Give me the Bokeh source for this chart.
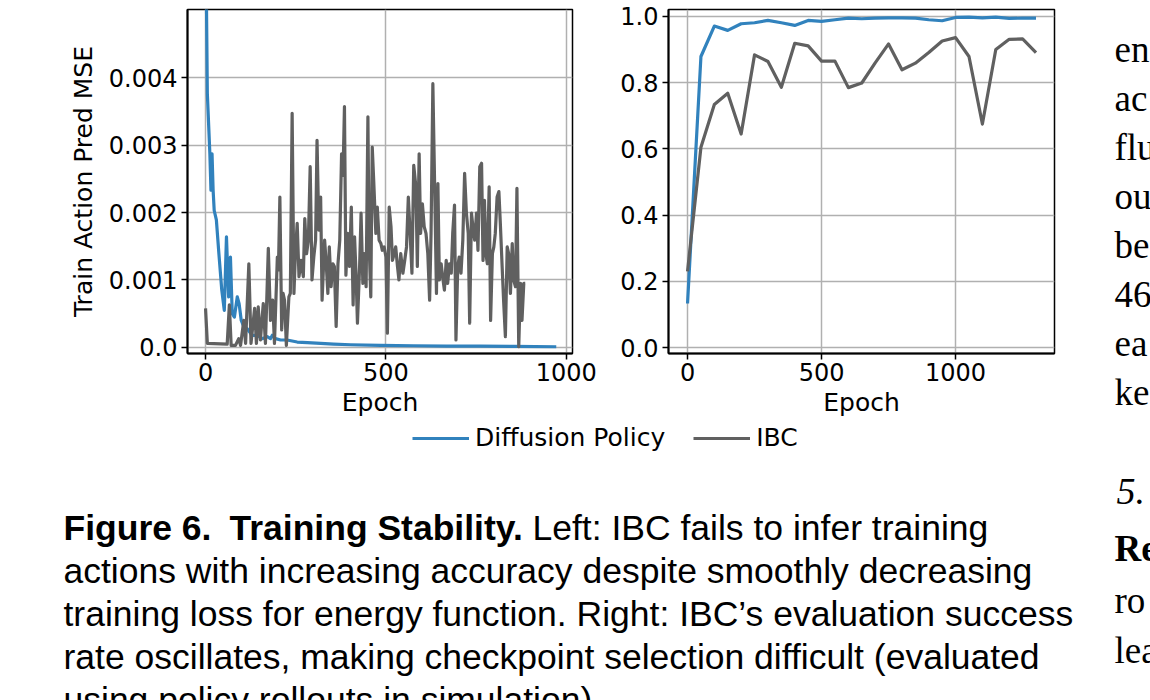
import math

from bokeh.core.properties import value
from bokeh.embed import file_html
from bokeh.layouts import column, row
from bokeh.models import (CustomJSTickFormatter, FixedTicker, Label, Legend,
                          LegendItem, Range1d)
from bokeh.plotting import figure
from bokeh.resources import INLINE

# ---------------------------------------------------------------- data
# Left panel: training action-prediction MSE per epoch
mse_dp_epoch = [0, 5, 12, 15, 18, 21, 24, 30, 37, 45, 52, 58, 64, 69, 74, 80, 88,
                93, 99, 106, 115, 129, 143, 157, 171, 180, 185, 194, 208, 226, 254,
                282, 319, 355, 402, 485, 577, 669, 762, 854, 972]
mse_dp = [0.0065, 0.00376, 0.00287, 0.00233, 0.00287, 0.00233, 0.00203, 0.00189,
          0.00139, 0.00085, 0.00055, 0.00164, 0.00075, 0.00134, 0.00050, 0.00045,
          0.00075, 0.00065, 0.00040, 0.00031, 0.00028, 0.00018, 0.00018, 0.00013,
          0.00016, 0.00013, 0.00018, 0.00013, 0.00011, 0.00011, 0.00008, 0.00007,
          0.00006, 0.00005, 0.00004, 0.00003, 0.000025, 0.00002, 0.00002,
          0.000015, 0.00001]

mse_ibc_epoch = [0, 5, 60, 66, 71, 83, 92, 97, 106, 111, 120, 126, 136, 141, 146,
                 152, 160, 166, 174, 180, 186, 191, 199, 202, 206, 211, 215, 219,
                 224, 231, 235, 240, 245, 249, 254, 259, 265, 271, 275, 280, 285,
                 290, 295, 300, 305, 309, 314, 319, 323, 330, 334, 339, 343, 348,
                 353, 357, 362, 367, 372, 377, 381, 385, 389, 394, 399, 404, 409,
                 413, 417, 421, 427, 431, 436, 440, 445, 450, 453, 458, 462, 466,
                 472, 476, 481, 486, 490, 495, 500, 504, 509, 514, 518, 523, 527,
                 532, 536, 541, 547, 552, 557, 562, 567, 572, 577, 583, 587, 592,
                 596, 601, 606, 611, 616, 621, 625, 630, 635, 640, 644, 648, 653,
                 657, 662, 667, 671, 676, 681, 685, 690, 694, 699, 703, 708, 713,
                 718, 723, 728, 732, 737, 741, 746, 751, 755, 760, 765, 769, 773,
                 777, 781, 786, 790, 795, 799, 803, 808, 813, 817, 822, 826, 831,
                 836, 840, 845, 850, 854, 859, 863, 868, 873, 877, 882, 886]
mse_ibc = [0.00058, 0.00006, 0.00005, 0.00063, 0.00003, 0.00003, 0.00013, 0.00003,
           0.00040, 0.00006, 0.00124, 0.00006, 0.00058, 0.00006, 0.00060, 0.00011,
           0.00065, 0.00006, 0.00147, 0.00040, 0.00070, 0.00006, 0.00134, 0.00115,
           0.00223, 0.00026, 0.00080, 0.00070, 0.00003, 0.00075, 0.00080, 0.00347,
           0.00080, 0.00139, 0.00184, 0.00105, 0.00129, 0.00105, 0.00191, 0.00139,
           0.00159, 0.00268, 0.00100, 0.00134, 0.00159, 0.00307, 0.00174, 0.00223,
           0.00070, 0.00159, 0.00129, 0.00080, 0.00149, 0.00090, 0.00124, 0.00120,
           0.00031, 0.00124, 0.00159, 0.00287, 0.00255, 0.00357, 0.00107, 0.00169,
           0.00120, 0.00208, 0.00063, 0.00164, 0.00110, 0.00036, 0.00120, 0.00199,
           0.00095, 0.00139, 0.00090, 0.00342, 0.00159, 0.00075, 0.00297, 0.00248,
           0.00169, 0.00208, 0.00159, 0.00154, 0.00144, 0.00149, 0.00134, 0.00021,
           0.00208, 0.00179, 0.00129, 0.00139, 0.00149, 0.00120, 0.00100, 0.00139,
           0.00110, 0.00129, 0.00149, 0.00223, 0.00169, 0.00110, 0.00270, 0.00238,
           0.00120, 0.00287, 0.00169, 0.00213, 0.00179, 0.00169, 0.00139, 0.00070,
           0.00169, 0.00391, 0.00238, 0.00080, 0.00243, 0.00100, 0.00124, 0.00105,
           0.00085, 0.00129, 0.00095, 0.00124, 0.00110, 0.00169, 0.00211, 0.00011,
           0.00120, 0.00134, 0.00110, 0.00159, 0.00258, 0.00199, 0.00169, 0.00036,
           0.00199, 0.00179, 0.00159, 0.00199, 0.00144, 0.00268, 0.00273, 0.00129,
           0.00218, 0.00139, 0.00124, 0.00238, 0.00040, 0.00139, 0.00149, 0.00169,
           0.00223, 0.00231, 0.00184, 0.00120, 0.00070, 0.00016, 0.00149, 0.00139,
           0.00080, 0.00154, 0.00100, 0.00090, 0.00236, 0.00001, 0.00095, 0.00040,
           0.00095, 0.00095]

# Right panel: evaluation success rate
eval_epoch = [0, 50, 100, 150, 200, 250, 300, 350, 400, 450, 500, 550, 600, 650,
              700, 750, 800, 850, 900, 950, 1000, 1050, 1100, 1150, 1200, 1250, 1300]
eval_dp = [0.133, 0.879, 0.971, 0.958, 0.978, 0.981, 0.988, 0.981, 0.973, 0.988,
           0.985, 0.990, 0.995, 0.993, 0.995, 0.996, 0.996, 0.995, 0.990, 0.987,
           0.997, 0.998, 0.996, 0.998, 0.994, 0.995, 0.995]
eval_ibc = [0.230, 0.605, 0.734, 0.768, 0.645, 0.884, 0.864, 0.786, 0.919, 0.911,
            0.865, 0.865, 0.785, 0.799, 0.860, 0.917, 0.839, 0.859, 0.891, 0.926,
            0.936, 0.879, 0.675, 0.900, 0.931, 0.932, 0.891]

x_ticks = [0, 500, 1000]
mse_ticks = [0.0, 0.001, 0.002, 0.003, 0.004]
rate_ticks = [0.0, 0.2, 0.4, 0.6, 0.8, 1.0]

series_names = ["Diffusion Policy", "IBC"]
caption_bold = ["Figure 6.", "Training Stability."]
caption_first = "Left: IBC fails to infer training"
caption_rest = [
    "actions with increasing accuracy despite smoothly decreasing",
    "training loss for energy function. Right: IBC\u2019s evaluation success",
    "rate oscillates, making checkpoint selection difficult (evaluated",
    "using policy rollouts in simulation).",
]
column_plain = ["en", "ac", "flu", "ou", "be", "46", "ea", "ke", "ro", "lea"]

# ---------------------------------------------------------------- style
BLUE = "#3182bd"
GREY = "#606060"
GRID = "#b0b0b0"
PLOT_FONT = "DejaVu Sans"
TOP_H = 425
PAGE_H = 700
SIDE_X = 1095


def style_axes(p):
    for ax in (p.xaxis[0], p.yaxis[0]):
        ax.axis_line_color = "black"
        ax.axis_line_width = 2
        ax.major_tick_line_color = "black"
        ax.major_tick_line_width = 1.5
        ax.major_tick_out = 6
        ax.major_tick_in = 0
        ax.minor_tick_line_color = None
        ax.major_label_text_font = PLOT_FONT
        ax.major_label_text_font_size = "24px"
        ax.major_label_text_color = "black"
        ax.axis_label_text_font = PLOT_FONT
        ax.axis_label_text_font_size = "25px"
        ax.axis_label_text_font_style = "normal"
        ax.axis_label_text_color = "black"
    p.xaxis.major_label_standoff = 3
    p.xaxis.axis_label_standoff = 4
    p.yaxis.major_label_standoff = 4
    p.yaxis.axis_label_standoff = 8
    p.grid.grid_line_color = GRID
    p.grid.grid_line_width = 1.5
    p.outline_line_color = "black"
    p.outline_line_width = 1.5
    p.background_fill_color = "white"
    p.border_fill_color = "white"


# ---------------------------------------------------------------- left chart
p1 = figure(width=615, height=TOP_H, x_range=Range1d(-50, 1017),
            y_range=Range1d(-0.00009, 0.00501), output_backend="svg",
            toolbar_location=None, min_border_left=187, min_border_right=43,
            min_border_top=9, min_border_bottom=72)
style_axes(p1)
p1.xaxis.ticker = FixedTicker(ticks=x_ticks)
p1.yaxis.ticker = FixedTicker(ticks=mse_ticks)
p1.yaxis.formatter = CustomJSTickFormatter(
    code="return tick == 0 ? '0.0' : tick.toFixed(3);")
p1.xaxis.axis_label = "Epoch"
p1.yaxis.axis_label = "Train Action Pred MSE"
p1.line(mse_dp_epoch, mse_dp, line_color=BLUE, line_width=3.2, line_join="round")
p1.line(mse_ibc_epoch, mse_ibc, line_color=GREY, line_width=3.2, line_join="round")

# y-axis title of the right chart sits in this canvas, just left of its ticks
p1.add_layout(Label(x=411, y=172, x_units="screen", y_units="screen",
                    text="Success Rate", angle=math.pi / 2, text_align="center",
                    text_baseline="middle", text_font=PLOT_FONT,
                    text_font_size="25px", text_color="black"))

# ---------------------------------------------------------------- right chart
p2 = figure(width=SIDE_X - 615, height=TOP_H, x_range=Range1d(-71, 1369),
            y_range=Range1d(-0.018, 1.021), output_backend="svg",
            toolbar_location=None, min_border_left=53, min_border_right=41,
            min_border_top=9, min_border_bottom=72)
style_axes(p2)
p2.xaxis.ticker = FixedTicker(ticks=x_ticks)
p2.yaxis.ticker = FixedTicker(ticks=rate_ticks)
p2.yaxis.formatter = CustomJSTickFormatter(code="return tick.toFixed(1);")
p2.xaxis.axis_label = "Epoch"
p2.line(eval_epoch, eval_dp, line_color=BLUE, line_width=3.2, line_join="round")
p2.line(eval_epoch, eval_ibc, line_color=GREY, line_width=3.2, line_join="round")


def text_panel(width, height, x0, y0):
    p = figure(width=width, height=height, x_range=Range1d(x0, x0 + width),
               y_range=Range1d(y0 + height, y0), x_axis_type=None,
               y_axis_type=None, output_backend="svg", toolbar_location=None,
               min_border=0, outline_line_color=None)
    p.background_fill_color = "white"
    p.border_fill_color = "white"
    return p


SERIF = value("Liberation Serif")
SANS = value("Liberation Sans")
CAP_SIZE = "35.5px"

# ---------------------------------------------------------------- body text column
side = text_panel(1150 - SIDE_X, PAGE_H, SIDE_X, 0)
side.text(x=[1114] * len(column_plain),
          y=[49, 98, 147, 196, 245, 294, 343, 392, 600, 650],
          text=column_plain, text_font=SERIF, text_font_size="37px",
          text_baseline="alphabetic", text_color="black")
side.text(x=[1116], y=[491], text=["5."], text_font=SERIF, text_font_size="38px",
          text_font_style="italic", text_baseline="alphabetic", text_color="black")
side.text(x=[1114], y=[548], text=["Re"], text_font=SERIF, text_font_size="37px",
          text_font_style="bold", text_baseline="alphabetic", text_color="black")

# ---------------------------------------------------------------- caption area
bottom = text_panel(SIDE_X, PAGE_H - TOP_H, 0, TOP_H)
bottom.text(x=[63, 229], y=[527, 527], text=caption_bold, text_font=SANS,
            text_font_size=CAP_SIZE, text_font_style="bold",
            text_baseline="alphabetic", text_color="black")
bottom.text(x=[532], y=[527], text=[caption_first], text_font=SANS,
            text_font_size=CAP_SIZE, text_baseline="alphabetic", text_color="black")
bottom.text(x=[63] * 4, y=[570, 613, 656, 699], text=caption_rest, text_font=SANS,
            text_font_size=CAP_SIZE, text_baseline="alphabetic", text_color="black")

# shared legend for both charts (stand-in renderers carry only the line style)
nan = float("nan")
leg_dp = bottom.line(x=[nan], y=[nan], line_color=BLUE, line_width=3.2)
leg_ibc = bottom.line(x=[nan], y=[nan], line_color=GREY, line_width=3.2)
legend = Legend(items=[LegendItem(label=series_names[0], renderers=[leg_dp]),
                       LegendItem(label=series_names[1], renderers=[leg_ibc])],
                orientation="horizontal", location=(412, 248), margin=0,
                padding=0, spacing=28, glyph_width=57, label_standoff=6,
                border_line_color=None, background_fill_alpha=0,
                label_text_font=PLOT_FONT, label_text_font_size="25px",
                label_text_color="black")
bottom.add_layout(legend)

page = row(column(row(p1, p2), bottom), side)
open("out.html", "w").write(file_html(page, INLINE))
